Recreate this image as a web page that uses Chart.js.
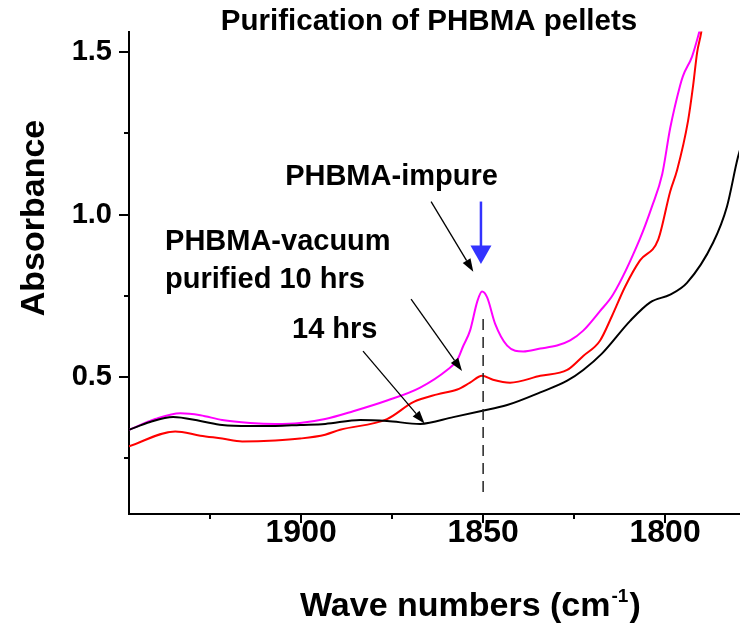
<!DOCTYPE html>
<html><head><meta charset="utf-8">
<script src="https://cdn.jsdelivr.net/npm/chart.js@4.4.1/dist/chart.umd.min.js"></script>
<style>html,body{margin:0;padding:0;background:#fff;overflow:hidden}#wrap{width:742px;height:627px}</style>
</head><body><div id="wrap"><canvas id="c" width="742" height="627"></canvas></div>
<script>
// ---- data (wavenumber cm-1, absorbance) ----
const impureX = [1947.3,1940.1,1933.2,1927.7,1921.7,1914.0,1907.1,1900.3,1893.4,1885.7,1876.4,1867.3,1859.9,1857.1,1855.5,1853.6,1851.6,1850.3,1848.9,1846.7,1843.4,1839.0,1834.3,1829.7,1826.1,1822.5,1817.9,1814.3,1806.9,1803.6,1800.8,1798.6,1795.9,1795.1,1792.6,1790.7,1789.8];
const impureY = [0.338,0.371,0.389,0.383,0.368,0.359,0.356,0.359,0.371,0.395,0.428,0.468,0.522,0.553,0.595,0.643,0.733,0.763,0.745,0.664,0.597,0.579,0.588,0.597,0.613,0.643,0.703,0.754,0.926,1.025,1.124,1.266,1.396,1.426,1.486,1.558,1.598];

const vac10X = [1947.3,1934.6,1927.7,1921.7,1916.2,1907.1,1900.3,1893.4,1889.3,1876.4,1869.2,1862.6,1857.1,1853.6,1850.3,1847.3,1842.6,1834.3,1826.9,1822.5,1817.9,1814.6,1811.0,1806.9,1801.9,1798.6,1796.7,1793.7,1792.3,1791.2,1790.1,1789.6];
const vac10Y = [0.287,0.333,0.320,0.311,0.302,0.305,0.311,0.323,0.338,0.371,0.423,0.447,0.462,0.483,0.504,0.492,0.483,0.504,0.522,0.565,0.612,0.688,0.778,0.859,0.923,1.071,1.137,1.288,1.397,1.499,1.559,1.599];

const vac14X = [1947.3,1941.5,1935.2,1927.7,1921.7,1914.0,1907.1,1900.3,1893.4,1883.8,1876.4,1867.3,1858.2,1850.8,1843.4,1834.3,1826.9,1822.5,1817.3,1809.6,1804.1,1798.6,1794.0,1786.8,1783.0,1780.0,1778.0];
const vac14Y = [0.338,0.362,0.377,0.365,0.353,0.350,0.350,0.353,0.356,0.368,0.365,0.356,0.377,0.395,0.414,0.453,0.489,0.522,0.573,0.673,0.730,0.754,0.790,0.914,1.025,1.176,1.250];

const xMajorTicks = [1900, 1850, 1800];
const xMinorTicks = [1925, 1875, 1825];
const yMajorTicks = [0.5, 1.0, 1.5];
const yMinorTicks = [0.25, 0.75, 1.25];
const X_MIN = 1779.7, X_MAX = 1947.3, Y_MIN = 0.079, Y_MAX = 1.563;

// annotations in data coordinates
const labels = [
  {text: 'PHBMA-impure', x: 1904.4, y: 1.092},
  {text: 'PHBMA-vacuum', x: 1937.4, y: 0.890},
  {text: 'purified 10 hrs', x: 1937.4, y: 0.775},
  {text: '14 hrs', x: 1902.5, y: 0.619}
];
const arrows = [
  {from: [1864.3, 1.040], to: [1852.7, 0.824]},
  {from: [1869.8, 0.740], to: [1855.8, 0.519]},
  {from: [1883.0, 0.580], to: [1866.1, 0.357]}
];
const peakLine = {x: 1850, y0: 0.679, y1: 0.130};
const blueArrow = {x: 1850.6, y0: 1.040, y1: 0.905, tip: 0.848};

const FONT = '"Liberation Sans", Arial, sans-serif';
const pts = (xs, ys) => xs.map((x, i) => ({x, y: ys[i]}));

const annot = {
  id: 'annot',
  afterDraw(chart) {
    const {ctx, scales: {x, y}} = chart;
    const px = v => x.getPixelForValue(v), py = v => y.getPixelForValue(v);
    const bottom = chart.chartArea.bottom, left = chart.chartArea.left;
    ctx.save();
    ctx.strokeStyle = '#000'; ctx.lineWidth = 2;
    // ticks
    ctx.beginPath();
    xMajorTicks.forEach(v => { const p = Math.round(px(v)); ctx.moveTo(p, bottom); ctx.lineTo(p, bottom + 9); });
    xMinorTicks.forEach(v => { const p = Math.round(px(v)); ctx.moveTo(p, bottom); ctx.lineTo(p, bottom + 5); });
    yMajorTicks.forEach(v => { const p = Math.round(py(v)); ctx.moveTo(left, p); ctx.lineTo(left - 10, p); });
    yMinorTicks.forEach(v => { const p = Math.round(py(v)); ctx.moveTo(left, p); ctx.lineTo(left - 5, p); });
    ctx.stroke();

    // dashed peak line
    ctx.beginPath();
    ctx.setLineDash([11, 7]);
    ctx.lineWidth = 1.5; ctx.strokeStyle = '#222';
    ctx.moveTo(px(peakLine.x), py(peakLine.y0)); ctx.lineTo(px(peakLine.x), py(peakLine.y1));
    ctx.stroke();
    ctx.setLineDash([]);

    // black arrows
    ctx.strokeStyle = '#000'; ctx.fillStyle = '#000'; ctx.lineWidth = 1.3;
    arrows.forEach(a => {
      const x0 = px(a.from[0]), y0 = py(a.from[1]), x1 = px(a.to[0]), y1 = py(a.to[1]);
      const ang = Math.atan2(y1 - y0, x1 - x0), L = 13, W = 4.5;
      const bx = x1 - L * Math.cos(ang), by = y1 - L * Math.sin(ang);
      ctx.beginPath(); ctx.moveTo(x0, y0); ctx.lineTo(bx, by); ctx.stroke();
      ctx.beginPath(); ctx.moveTo(x1, y1);
      ctx.lineTo(bx + W * Math.sin(ang), by - W * Math.cos(ang));
      ctx.lineTo(bx - W * Math.sin(ang), by + W * Math.cos(ang));
      ctx.closePath(); ctx.fill();
    });

    // blue arrow
    const bxp = px(blueArrow.x);
    ctx.strokeStyle = '#3333ff'; ctx.fillStyle = '#3333ff'; ctx.lineWidth = 2.5;
    ctx.beginPath(); ctx.moveTo(bxp, py(blueArrow.y0)); ctx.lineTo(bxp, py(blueArrow.y1) + 1); ctx.stroke();
    ctx.beginPath();
    ctx.moveTo(bxp - 10.5, py(blueArrow.y1)); ctx.lineTo(bxp + 10.5, py(blueArrow.y1)); ctx.lineTo(bxp, py(blueArrow.tip));
    ctx.closePath(); ctx.fill();

    // text labels
    ctx.fillStyle = '#000';
    ctx.textBaseline = 'alphabetic'; ctx.textAlign = 'left';
    ctx.font = 'bold 29px ' + FONT;
    labels.forEach(l => ctx.fillText(l.text, px(l.x), py(l.y)));

    // title
    ctx.textAlign = 'center';
    ctx.font = 'bold 29.5px ' + FONT;
    ctx.fillText('Purification of PHBMA pellets', 429, 30);

    // y axis title
    ctx.save();
    ctx.translate(44, 218); ctx.rotate(-Math.PI / 2);
    ctx.font = 'bold 34px ' + FONT; ctx.textAlign = 'center';
    ctx.fillText('Absorbance', 0, 0);
    ctx.restore();

    // x axis title with superscript
    ctx.textAlign = 'left';
    let tx = 300; const base = 616;
    ctx.font = 'bold 34px ' + FONT;
    const t1 = 'Wave numbers (cm';
    ctx.fillText(t1, tx, base); tx += ctx.measureText(t1).width + 1;
    ctx.font = 'bold 19px ' + FONT;
    ctx.fillText('-1', tx, base - 14); tx += ctx.measureText('-1').width + 1;
    ctx.font = 'bold 34px ' + FONT;
    ctx.fillText(')', tx, base);
    ctx.restore();
  }
};

new Chart(document.getElementById('c').getContext('2d'), {
  type: 'line',
  data: {datasets: [
    {label: 'PHBMA-vacuum purified 14 hrs', data: pts(vac14X, vac14Y), borderColor: '#000000', borderWidth: 2, pointRadius: 0, cubicInterpolationMode: 'monotone', fill: false},
    {label: 'PHBMA-vacuum purified 10 hrs', data: pts(vac10X, vac10Y), borderColor: '#ff0000', borderWidth: 2, pointRadius: 0, cubicInterpolationMode: 'monotone', fill: false},
    {label: 'PHBMA-impure', data: pts(impureX, impureY), borderColor: '#ff00ff', borderWidth: 2, pointRadius: 0, cubicInterpolationMode: 'monotone', fill: false}
  ]},
  options: {
    responsive: false, animation: false, devicePixelRatio: 1,
    layout: {padding: {top: 22, right: 3, left: 0, bottom: 0}},
    plugins: {legend: {display: false}, tooltip: {enabled: false}, title: {display: false}},
    scales: {
      x: {
        type: 'linear', reverse: true, min: X_MIN, max: X_MAX,
        afterBuildTicks: s => { s.ticks = xMajorTicks.map(v => ({value: v})); },
        afterFit: s => { s.height = 113; },
        grid: {display: false, drawTicks: false},
        border: {display: true, color: '#000', width: 2},
        ticks: {padding: 3, color: '#000', maxRotation: 0, autoSkip: false,
          font: {family: FONT, weight: 'bold', size: 32, lineHeight: 1},
          callback: v => String(v)}
      },
      y: {
        type: 'linear', min: Y_MIN, max: Y_MAX,
        afterBuildTicks: s => { s.ticks = yMajorTicks.map(v => ({value: v})); },
        afterFit: s => { s.width = 129; },
        grid: {display: false, drawTicks: false},
        border: {display: true, color: '#000', width: 2},
        ticks: {padding: 17, color: '#000', autoSkip: false,
          font: {family: FONT, weight: 'bold', size: 29, lineHeight: 1},
          callback: v => v.toFixed(1)}
      }
    }
  },
  plugins: [annot]
});
</script>
</body></html>
